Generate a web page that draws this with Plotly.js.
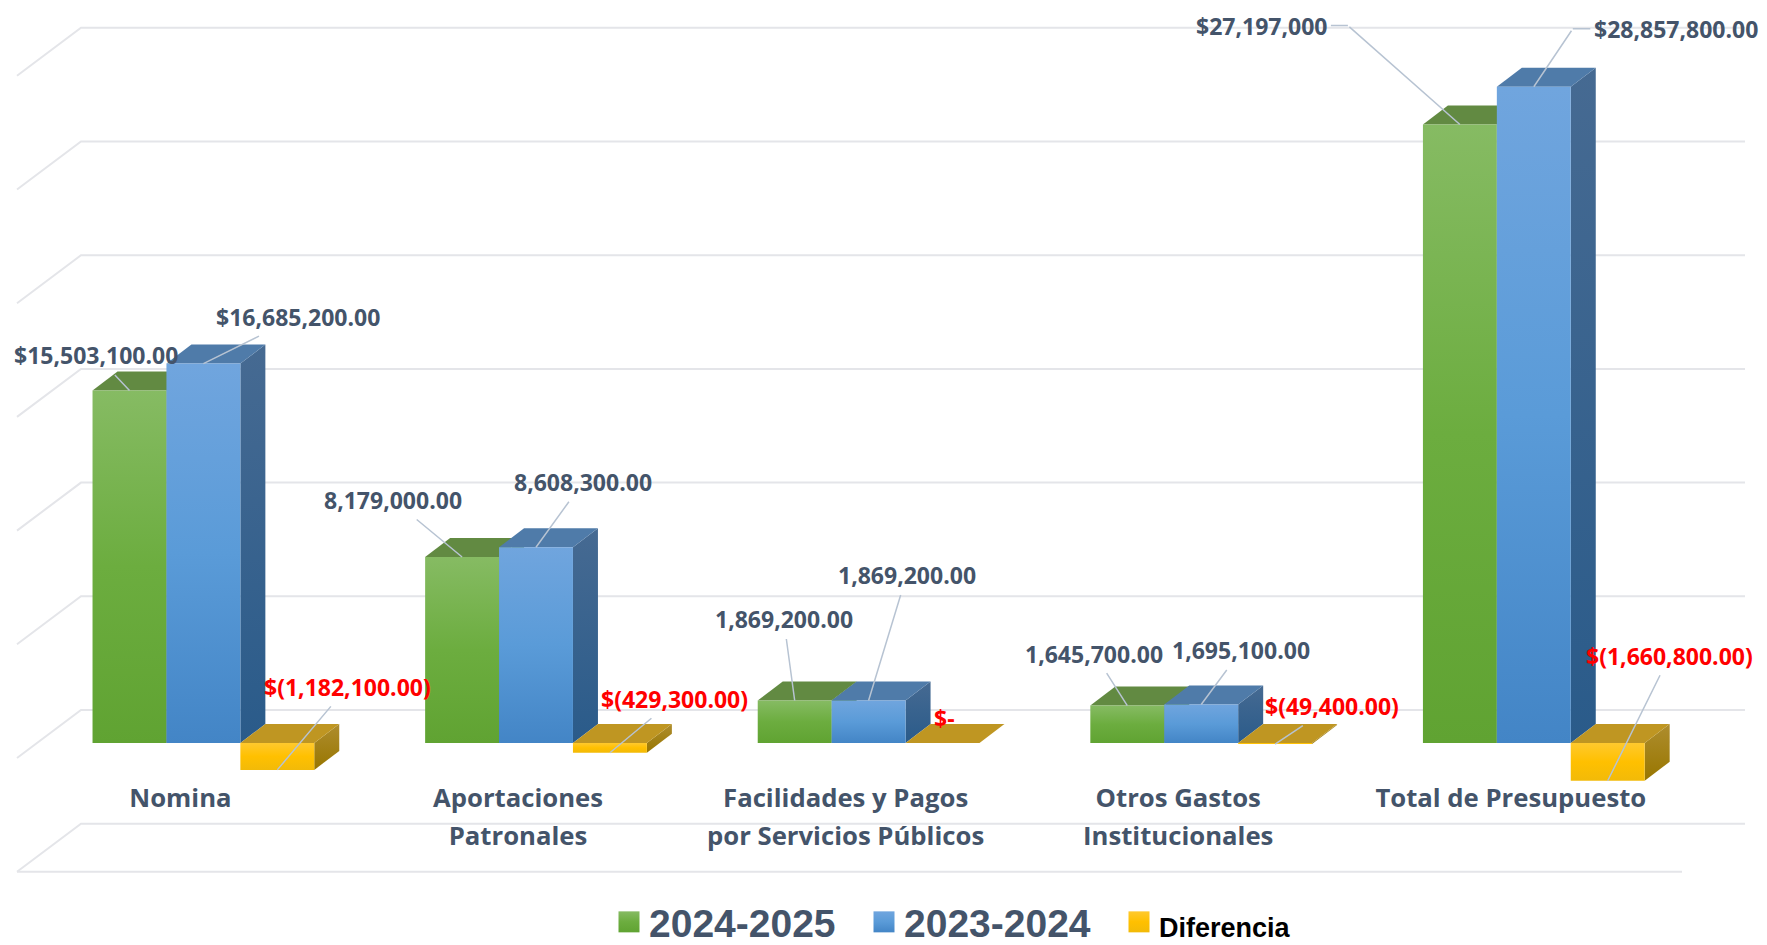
<!DOCTYPE html>
<html>
<head>
<meta charset="utf-8">
<script src="https://cdn.plot.ly/plotly-3.0.1.min.js"></script>
<style>html,body{margin:0;padding:0;background:#fff;overflow:hidden}#chart{width:1767px;height:945px}</style>
</head>
<body>
<div id="chart"></div>
<script>
// ---- data ----
const categories = ['Nomina', 'Aportaciones<br>Patronales', 'Facilidades y Pagos<br>por Servicios Públicos', 'Otros Gastos<br>Institucionales', 'Total de Presupuesto'];
const seriesNames = ['2024-2025', '2023-2024', 'Diferencia'];
const values2425 = [15503100, 8179000, 1869200, 1645700, 27197000];
const values2324 = [16685200, 8608300, 1869200, 1695100, 28857800];
const valuesDiff = [-1182100, -429300, 0, -49400, -1660800];
const labels2425 = ['$15,503,100.00', '8,179,000.00', '1,869,200.00', '1,645,700.00', '$27,197,000'];
const labels2324 = ['$16,685,200.00', '8,608,300.00', '1,869,200.00', '1,695,100.00', '$28,857,800.00'];
const labelsDiff = ['$(1,182,100.00)', '$(429,300.00)', '$-', '$(49,400.00)', '$(1,660,800.00)'];
const gridValues = [-5e6, 0, 5e6, 10e6, 15e6, 20e6, 25e6, 30e6];

// ---- layout constants (pixels of the 1767x945 page) ----
const W = 1767, H = 945;
const pxPerCat = 332.6, pxPerUnit = 22.74 / 1e6;
const x0px = 203.4, y0px = 743;
const xRange = [-x0px / pxPerCat, (W - x0px) / pxPerCat];
const yRange = [-(H - y0px) / pxPerUnit, y0px / pxPerUnit];
const xU = p => p / pxPerCat, yU = p => p / pxPerUnit;
const barW = 2 / 9;
const depthX = xU(25), depthY = yU(19);
const labelOffsets = [
  [[-33,-35],[-69,-57],[-11,-81],[-33,-52],[-198,-99]],
  [[95,-47],[47,-65],[38,-125],[40,-54],[142,-58]],
  [[70,-83],[65,-54],[2,-25],[57,-38],[62,-125]]
];
// horizontal nudge of each category label, pixels
const tickNudge = [-23, -18, -23, -23, -23];
// leaders with a bend: bend point relative to the bar, keyed series,category
const leaderBends = {'0,4':[-112,-99], '1,4':[39,-58]};
const frontColors = ['#6FAE45', '#5B9BD5', '#FFC000'];
const topColors = ['#628A42', '#4F7BA9', '#BF9622'];
const frontStops = [['#86BB63','#6CAD3F','#60A332'],['#70A5DE','#5A9BD8','#4385C6'],['#FFC92E','#FFC000','#F2BA08']];
const sideStops = [['#5B8A3C','#41702A'],['#466A92','#2A5B8A'],['#AE8D2E','#987600']];
const series = [values2425, values2324, valuesDiff];
const labelSets = [labels2425, labels2324, labelsDiff];
const textColors = ['#44546A', '#44546A', '#FF0000'];
const labelFont = 'Open Sans, Noto Sans, sans-serif';
const labelSize = 23, tickSize = 25.7, tickLineSize = 29.2;

// ---- back wall / floor grid ----
const shapes = [];
const backDX = xU(81 - x0px), frontDX = xU(17 - x0px), backEnd = xU(1745 - x0px), frontEnd = xU(1682 - x0px);
const backOffset = yU(33), frontOffset = yU(33 - 48);
gridValues.forEach(v => {
  const yb = v + backOffset, yf = v + frontOffset;
  shapes.push({type:'path', layer:'below', xref:'x', yref:'y',
    path:`M${frontDX},${yf} L${backDX},${yb} L${backEnd},${yb}`,
    line:{color:'#E4E5E9', width:2}, fillcolor:'rgba(0,0,0,0)'});
});
// floor front edge
shapes.push({type:'path', layer:'below', xref:'x', yref:'y',
  path:`M${frontDX},${gridValues[0]+frontOffset} L${frontEnd},${gridValues[0]+frontOffset}`,
  line:{color:'#E4E5E9', width:2}});

// ---- 3-D faces of every bar, derived from the values ----
const sideIndex = {};
series.forEach((vals, s) => {
  vals.forEach((v, i) => {
    const left = i - 1/3 + s * barW, right = left + barW;
    const hi = Math.max(v, 0), lo = Math.min(v, 0);
    shapes.push({type:'path', layer:'below', xref:'x', yref:'y',
      path:`M${right},${hi} L${right+depthX},${hi+depthY} L${right+depthX},${lo+depthY} L${right},${lo} Z`,
      fillcolor:sideStops[s][1], line:{width:0}});
    sideIndex[shapes.length - 1] = s;
    shapes.push({type:'path', layer:'below', xref:'x', yref:'y',
      path:`M${left},${hi} L${right},${hi} L${right+depthX},${hi+depthY} L${left+depthX},${hi+depthY} Z`,
      fillcolor:topColors[s], line:{width:0}});
  });
});

// ---- traces ----
const traces = series.map((vals, s) => ({
  type:'bar', name:seriesNames[s] === 'Diferencia'
    ? '<span style="font-size:27px;color:#000000">Diferencia</span>' : seriesNames[s],
  x:categories.map((_, i) => i), y:vals,
  marker:{color:frontColors[s], line:{width:0}},
  hoverinfo:'y'
}));

// ---- data labels with leader lines ----
const annotations = [];
const leaderStyle = {showarrow:true, arrowhead:0, arrowwidth:1.5, arrowcolor:'#B7C3D2', axref:'pixel', ayref:'pixel'};
series.forEach((vals, s) => {
  vals.forEach((v, i) => {
    const [dx, dy] = labelOffsets[s][i];
    const a = {x:i + (s - 1) * barW, y:v, xref:'x', yref:'y', text:labelSets[s][i],
      font:{family:labelFont, size:labelSize, color:textColors[s], weight:700}};
    const bend = leaderBends[s + ',' + i];
    if (labelSets[s][i] === '$-') {
      Object.assign(a, {showarrow:false, xshift:dx, yshift:-dy});
    } else if (bend) {
      Object.assign(a, leaderStyle, {xshift:bend[0], yshift:-bend[1], ax:dx - bend[0], ay:dy - bend[1], borderpad:3});
      annotations.push({x:a.x, y:v, xref:'x', yref:'y', text:' ', font:{size:1},
        ...leaderStyle, ax:bend[0], ay:bend[1]});
    } else {
      Object.assign(a, leaderStyle, {ax:dx, ay:dy, borderpad:3});
    }
    annotations.push(a);
  });
});

const layout = {
  width:W, height:H,
  margin:{l:0, r:0, t:0, b:0, pad:0, autoexpand:false},
  paper_bgcolor:'#FFFFFF', plot_bgcolor:'#FFFFFF',
  barmode:'group', bargap:1/3, bargroupgap:0,
  showlegend:true,
  legend:{orientation:'h', x:609/W, xanchor:'left', y:1 - 922/H, yanchor:'middle',
    entrywidth:210, entrywidthmode:'pixels', traceorder:'normal', bgcolor:'rgba(0,0,0,0)',
    font:{family:'Liberation Sans, Arial, sans-serif', size:39, color:'#44546A', weight:700}},
  xaxis:{type:'linear', range:xRange, domain:[0,1], anchor:'free', position:1 - 777/H,
    tickmode:'array', tickvals:categories.map((_, i) => i + tickNudge[i] / pxPerCat),
    ticktext:categories.map(c => c.split('<br>').map(l => `<span style="font-size:${tickSize}px">${l}</span>`).join('<br>')),
    showgrid:false, zeroline:false, showline:false, ticks:'', tickangle:0, automargin:false,
    tickfont:{family:labelFont, size:tickLineSize, color:'#44546A', weight:700}},
  yaxis:{type:'linear', range:yRange, domain:[0,1], visible:false, showgrid:false, zeroline:false, automargin:false},
  shapes, annotations
};

Plotly.newPlot('chart', traces, layout, {displayModeBar:false, staticPlot:true}).then(gd => {
  // vertical shading of the bar faces
  const svg = gd.querySelector('svg.main-svg');
  const NS = 'http://www.w3.org/2000/svg';
  const defs = document.createElementNS(NS, 'defs');
  const addGrad = (id, stops) => {
    const g = document.createElementNS(NS, 'linearGradient');
    g.setAttribute('id', id); g.setAttribute('x1', 0); g.setAttribute('x2', 0); g.setAttribute('y1', 0); g.setAttribute('y2', 1);
    stops.forEach((c, k) => {
      const st = document.createElementNS(NS, 'stop');
      st.setAttribute('offset', k / (stops.length - 1)); st.setAttribute('stop-color', c);
      g.appendChild(st);
    });
    defs.appendChild(g);
  };
  frontStops.forEach((st, s) => addGrad('front' + s, st));
  sideStops.forEach((st, s) => addGrad('side' + s, st));
  svg.insertBefore(defs, svg.firstChild);
  gd.querySelectorAll('.barlayer .trace').forEach((t, s) => {
    t.querySelectorAll('.point path').forEach(p => { p.style.fill = `url(#front${s})`; });
  });
  gd.querySelectorAll('.legend .traces').forEach((t, s) => {
    t.querySelectorAll('.legendpoints path').forEach(p => {
      p.setAttribute('d', 'M10.5,10.5H-10.5V-10.5H10.5Z');
      p.style.fill = `url(#front${s})`;
    });
  });
  gd.querySelectorAll('.shapelayer path[data-index]').forEach(p => {
    const s = sideIndex[p.getAttribute('data-index')];
    if (s !== undefined) p.style.fill = `url(#side${s})`;
  });
});
</script>
</body>
</html>
